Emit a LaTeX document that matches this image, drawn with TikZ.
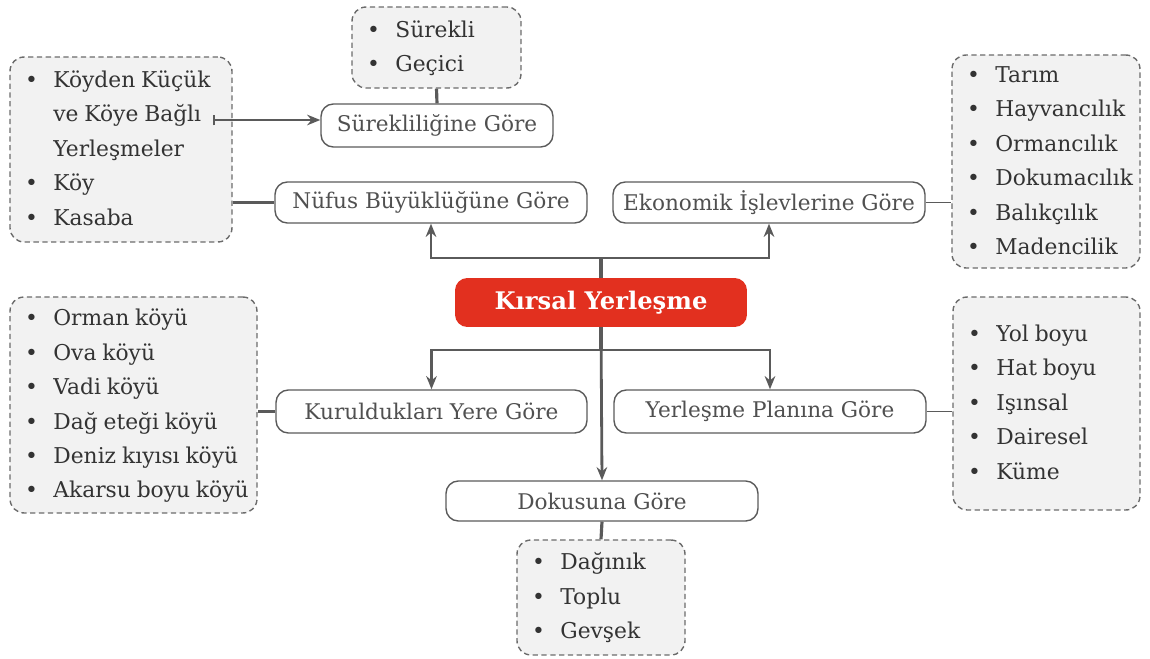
\documentclass[tikz,border=0pt]{standalone}
\usepackage{fontspec}
\setmainfont{DejaVu Serif}
\usetikzlibrary{arrows.meta}

\definecolor{kirmizi}{HTML}{E2301F}
\definecolor{cizgi}{HTML}{5A5A5A}
\definecolor{kutu}{HTML}{F2F2F2}
\definecolor{yazi}{HTML}{505050}

\newcommand{\liste}[1]{{\fontsize{12.4}{19.6}\selectfont\begin{tabular}{@{}l@{\hspace{0.31cm}}l@{}}#1\end{tabular}}}

\tikzset{
  baslik/.style={draw=cizgi, line width=0.8pt, rounded corners=7pt, text=yazi,
    font=\fontsize{12.3}{14}\selectfont, minimum height=0.84cm, inner sep=0pt},
  liste/.style={draw=cizgi!90, dash pattern=on 3pt off 2pt, line width=0.8pt,
    fill=kutu, rounded corners=8pt, text=black!80, align=left, inner ysep=0pt, inner xsep=0.3cm},
  ana/.style={fill=kirmizi, rounded corners=7pt, text=white,
    font=\bfseries\fontsize{13.8}{16}\selectfont, minimum width=5.84cm, minimum height=0.98cm},
  bag/.style={cizgi, line width=1.8pt},
  ince/.style={cizgi, line width=1.1pt},
  ok/.style={cizgi, line width=1.6pt, -{Stealth[length=7.5pt,width=6pt]}},
}

\begin{document}
\begin{tikzpicture}[x=0.02cm,y=-0.02cm]
\useasboundingbox (0,0) rectangle (1150,659);

% ana kutu
\node[ana] (kirsal) at (601,302.5) {Kırsal Yerleşme};

% gruplar
\node[baslik, minimum width=4.64cm, minimum height=0.86cm] (sure) at (437,125.5) {Sürekliliğine Göre};
\node[baslik, minimum width=6.24cm, minimum height=0.82cm] (nufus) at (431,202.5) {Nüfus Büyüklüğüne Göre};
\node[baslik, minimum width=6.24cm, minimum height=0.82cm] (ekon) at (769,202.5) {Ekonomik İşlevlerine Göre};
\node[baslik, minimum width=6.22cm, minimum height=0.86cm] (kurul) at (431.5,411.5) {Kuruldukları Yere Göre};
\node[baslik, minimum width=6.24cm, minimum height=0.86cm] (plan) at (770,411.5) {Yerleşme Planına Göre};
\node[baslik, minimum width=6.24cm, minimum height=0.80cm] (doku) at (602,501) {Dokusuna Göre};

% listeler
\node[liste, text width=2.78cm, minimum height=1.62cm] (lsure) at (436.5,47.5)
  {\liste{\textbullet & Sürekli\\ \textbullet & Geçici}};
\node[liste, text width=3.84cm, minimum height=3.7cm] (lnufus) at (121,149.5)
  {\liste{\textbullet & Köyden Küçük\\ & ve Köye Bağlı\\ & Yerleşmeler\\ \textbullet & Köy\\ \textbullet & Kasaba}};
\node[liste, text width=3.16cm, minimum height=4.26cm] (lekon) at (1046,161.5)
  {\liste{\textbullet & Tarım\\ \textbullet & Hayvancılık\\ \textbullet & Ormancılık\\ \textbullet & Dokumacılık\\ \textbullet & Balıkçılık\\ \textbullet & Madencilik}};
\node[liste, text width=4.34cm, minimum height=4.32cm] (lkurul) at (133.5,405)
  {\liste{\textbullet & Orman köyü\\ \textbullet & Ova köyü\\ \textbullet & Vadi köyü\\ \textbullet & Dağ eteği köyü\\ \textbullet & Deniz kıyısı köyü\\ \textbullet & Akarsu boyu köyü}};
\node[liste, text width=3.14cm, minimum height=4.26cm] (lplan) at (1046.5,403.5)
  {\liste{\textbullet & Yol boyu\\ \textbullet & Hat boyu\\ \textbullet & Işınsal\\ \textbullet & Dairesel\\ \textbullet & Küme}};
\node[liste, text width=2.76cm, minimum height=2.3cm] (ldoku) at (601,597.5)
  {\liste{\textbullet & Dağınık\\ \textbullet & Toplu\\ \textbullet & Gevşek}};

% baglantilar
\coordinate (ust) at (601,258);
\coordinate (alt) at (601,350);
\coordinate (bagli) at (213,120);
\draw[bag] (kirsal.north) -- (ust);
\draw[ok] (ust) -| (nufus.south);
\draw[ok] (ust) -| (ekon.south);
\draw[bag] (kirsal.south) -- (alt);
\draw[ok] (alt) -| (kurul.north);
\draw[ok] (alt) -| (plan.north);
\draw[ok] (kirsal.south) -- (doku.north);

\draw[bag] (lsure.south) -- (sure.north);
\draw[ince, line width=1.3pt, {Bar[width=6pt]}-{Stealth[length=7.5pt,width=6pt]}] (bagli) -- (bagli -| sure.west);
\draw[bag] (lnufus.east |- nufus.west) -- (nufus.west);
\draw[ince] (ekon.east) -- (ekon.east -| lekon.west);
\draw[bag] (kurul.west) -- (kurul.west -| lkurul.east);
\draw[ince] (plan.east) -- (plan.east -| lplan.west);
\draw[bag] (doku.south) -- (ldoku.north);
\end{tikzpicture}
\end{document}
